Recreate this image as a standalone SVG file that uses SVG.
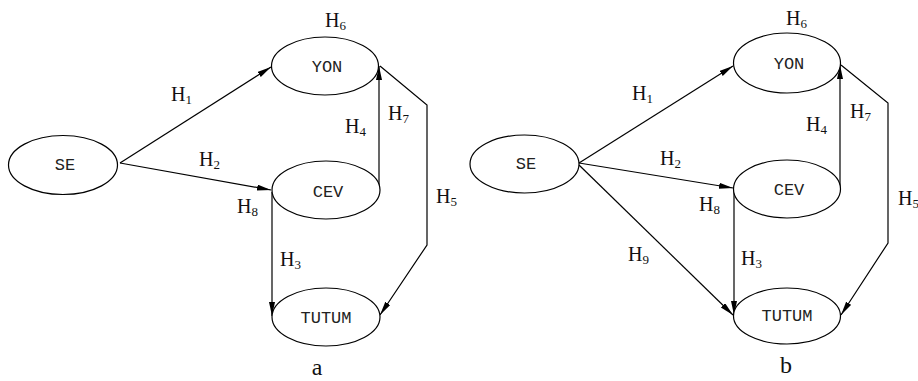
<svg xmlns="http://www.w3.org/2000/svg" width="918" height="381" viewBox="0 0 918 381">
<defs>
<style>
.node ellipse{fill:#fff;stroke:#000;stroke-width:1.2}
.node text{font-family:"Liberation Mono","Courier New",monospace;font-size:17px;fill:#222;text-anchor:middle;dominant-baseline:central}
.edge{fill:none;stroke:#000;stroke-width:1.2}
.lbl{font-family:"Liberation Serif","Times New Roman",serif;font-size:20px;fill:#111}
.lbl tspan.s{font-size:13px}
.cap{font-family:"Liberation Serif","Times New Roman",serif;font-size:24px;fill:#111;text-anchor:middle}
</style>
<marker id="ah" markerUnits="userSpaceOnUse" markerWidth="14" markerHeight="8" refX="14" refY="3" orient="auto">
<path d="M0,0 L14,3 L0,6 z" fill="#000"/>
</marker>
</defs>
<rect width="918" height="381" fill="#fff"/>

<g id="connectors">
<!-- left diagram -->
<path class="edge" d="M120,163 L271,67" marker-end="url(#ah)"/>
<path class="edge" d="M120,163 L271,190" marker-end="url(#ah)"/>
<path class="edge" d="M272,192 L272,316" marker-end="url(#ah)"/>
<path class="edge" d="M379,189 L379,66" marker-end="url(#ah)"/>
<path class="edge" d="M380,66 L427,105 L427,245 L380,315" marker-end="url(#ah)"/>
<!-- right diagram -->
<path class="edge" d="M579,163 L733,66" marker-end="url(#ah)"/>
<path class="edge" d="M579,163 L733,188" marker-end="url(#ah)"/>
<path class="edge" d="M579,165 L733,315" marker-end="url(#ah)"/>
<path class="edge" d="M734,190 L734,315" marker-end="url(#ah)"/>
<path class="edge" d="M840,188 L840,65" marker-end="url(#ah)"/>
<path class="edge" d="M841,65 L888,103 L888,243 L841,315" marker-end="url(#ah)"/>
</g>

<g id="a-SE" class="node"><ellipse cx="63" cy="165" rx="54.5" ry="29.5"/><text x="65" y="165">SE</text></g>
<g id="a-YON" class="node"><ellipse cx="325" cy="66" rx="53.5" ry="29"/><text x="327" y="67">YON</text></g>
<g id="a-CEV" class="node"><ellipse cx="326" cy="190" rx="54" ry="29"/><text x="328" y="192">CEV</text></g>
<g id="a-TUTUM" class="node"><ellipse cx="326" cy="317" rx="54" ry="29"/><text x="326" y="318">TUTUM</text></g>

<g id="b-SE" class="node"><ellipse cx="524.5" cy="164" rx="54.5" ry="29"/><text x="526" y="164">SE</text></g>
<g id="b-YON" class="node"><ellipse cx="787" cy="63" rx="53.5" ry="30"/><text x="789" y="64">YON</text></g>
<g id="b-CEV" class="node"><ellipse cx="787" cy="189" rx="53.5" ry="29"/><text x="789" y="190">CEV</text></g>
<g id="b-TUTUM" class="node"><ellipse cx="787" cy="316" rx="53.5" ry="28"/><text x="787" y="316">TUTUM</text></g>

<g id="labels">
<text class="lbl" x="325" y="27">H<tspan class="s" dy="3">6</tspan></text>
<text class="lbl" x="171" y="101">H<tspan class="s" dy="3">1</tspan></text>
<text class="lbl" x="199" y="166">H<tspan class="s" dy="3">2</tspan></text>
<text class="lbl" x="237" y="213">H<tspan class="s" dy="3">8</tspan></text>
<text class="lbl" x="345" y="133">H<tspan class="s" dy="3">4</tspan></text>
<text class="lbl" x="388" y="120">H<tspan class="s" dy="3">7</tspan></text>
<text class="lbl" x="436" y="203">H<tspan class="s" dy="3">5</tspan></text>
<text class="lbl" x="280" y="266">H<tspan class="s" dy="3">3</tspan></text>
<text class="cap" x="317" y="375">a</text>

<text class="lbl" x="786" y="25">H<tspan class="s" dy="3">6</tspan></text>
<text class="lbl" x="632" y="100">H<tspan class="s" dy="3">1</tspan></text>
<text class="lbl" x="660" y="165">H<tspan class="s" dy="3">2</tspan></text>
<text class="lbl" x="699" y="211">H<tspan class="s" dy="3">8</tspan></text>
<text class="lbl" x="628" y="261">H<tspan class="s" dy="3">9</tspan></text>
<text class="lbl" x="806" y="131">H<tspan class="s" dy="3">4</tspan></text>
<text class="lbl" x="850" y="118">H<tspan class="s" dy="3">7</tspan></text>
<text class="lbl" x="898" y="205">H<tspan class="s" dy="3">5</tspan></text>
<text class="lbl" x="741" y="265">H<tspan class="s" dy="3">3</tspan></text>
<text class="cap" x="786" y="373">b</text>
</g>
</svg>
